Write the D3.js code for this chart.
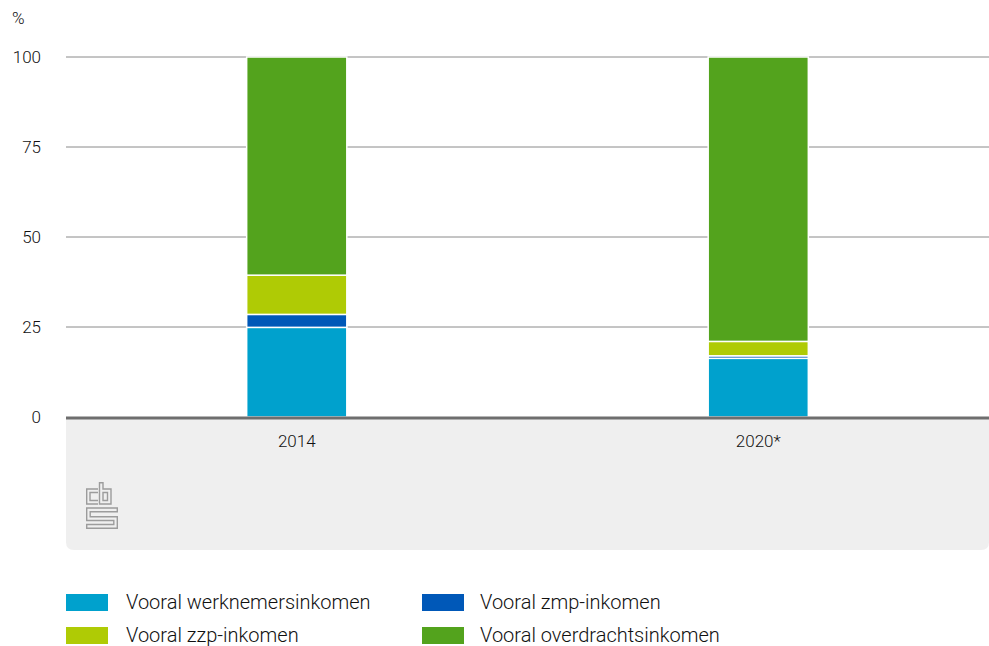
<!DOCTYPE html>
<html><head><meta charset="utf-8">
<script src="https://cdn.jsdelivr.net/npm/d3@7"></script>
<style>
body{margin:0;background:#fff;}
text{font-family:"Roboto","DejaVu Sans Condensed",sans-serif;fill:#111;font-weight:300;}
</style></head>
<body><svg id="c" width="989" height="646"></svg>
<script>
const categories = ["2014", "2020*"];
const seriesNames = ["Vooral werknemersinkomen", "Vooral zmp-inkomen", "Vooral zzp-inkomen", "Vooral overdrachtsinkomen"];
const werknemers = [24.9, 16.3];
const zmp = [3.6, 0.7];
const zzp = [10.9, 4.0];
const overdracht = [60.6, 79.0];
const yTicks = [0, 25, 50, 75, 100];
const colors = ["#00a1cd", "#0058b8", "#afcb05", "#53a31d"];

(function(){
const svg = d3.select("#c");
const pLeft = 66, pRight = 989, pTop = 57, pBottom = 417;
const x = d3.scaleBand().domain(categories).range([pLeft, pRight]).paddingInner(0.783).paddingOuter(0.3915);
const y = d3.scaleLinear().domain([0, 100]).range([pBottom, pTop]);

// gray panel
svg.append("path")
  .attr("d", `M${pLeft},${pBottom} H${pRight} V${550-8} Q${pRight},550 ${pRight-8},550 H${pLeft+8} Q${pLeft},550 ${pLeft},${550-8} Z`)
  .attr("fill", "#efefef");

// gridlines
svg.append("g").selectAll("line").data(yTicks.filter(d=>d>0)).join("line")
  .attr("x1", pLeft).attr("x2", pRight)
  .attr("y1", d=>y(d)).attr("y2", d=>y(d))
  .attr("stroke", "#8a8a8a").attr("stroke-width", 1);

// y labels
svg.append("g").selectAll("text").data(yTicks).join("text")
  .attr("x", 41).attr("y", d=>y(d)+6).attr("text-anchor","end")
  .attr("font-size", 17).text(d=>d);
svg.append("text").attr("x", 12).attr("y", 24).attr("font-size", 17).text("%");

// stack
const rows = categories.map((c,i)=>({cat:c, a:werknemers[i], b:zmp[i], c:zzp[i], d:overdracht[i]}));
const stack = d3.stack().keys(["a","b","c","d"])(rows);
svg.append("g").selectAll("g").data(stack).join("g")
  .attr("fill", (d,i)=>colors[i])
  .selectAll("rect").data(d=>d).join("rect")
  .attr("x", d=>x(d.data.cat)).attr("width", x.bandwidth())
  .attr("y", d=>y(d[1])).attr("height", d=>Math.max(0, y(d[0])-y(d[1])))
  .attr("stroke", "#fff").attr("stroke-width", 1.5);

// axis line
svg.append("line").attr("x1", pLeft).attr("x2", pRight).attr("y1", pBottom+1).attr("y2", pBottom+1)
  .attr("stroke", "#6e6e6e").attr("stroke-width", 3);

// x labels
svg.append("g").selectAll("text").data(categories).join("text")
  .attr("x", d=>x(d)+x.bandwidth()/2).attr("y", 447).attr("text-anchor","middle")
  .attr("font-size", 17).text(d=>d);

// logo
const lg = svg.append("g").attr("transform","translate(86,482)")
  .attr("fill","none").attr("stroke","#9c9c9c").attr("stroke-width",1.4);
lg.append("path").attr("d","M12,7 H0.7 V22 H12 M12,10.5 H4 V18.5 H12");
lg.append("path").attr("d","M13.5,0.7 H17 V7 H25 V22 H13.5 Z M17,10.5 H21.5 V18.5 H17 Z");
lg.append("path").attr("d","M31.3,26 H0.7 V38.5 H27.8 V42.5 H0.7 V46.3 H31.3 V34.8 H4.2 V29.8 H31.3 Z");

// legend
const leg = [
  {name: seriesNames[0], c: colors[0], x: 66, y: 594},
  {name: seriesNames[1], c: colors[1], x: 422, y: 594},
  {name: seriesNames[2], c: colors[2], x: 66, y: 627},
  {name: seriesNames[3], c: colors[3], x: 422, y: 627}
];
const lgd = svg.append("g").selectAll("g").data(leg).join("g");
lgd.append("rect").attr("x",d=>d.x).attr("y",d=>d.y).attr("width",42).attr("height",17).attr("fill",d=>d.c);
lgd.append("text").attr("x",d=>d.x+ (d.x===66?60:58)).attr("y",d=>d.y+15).attr("font-size",20).text(d=>d.name);
})();
</script></body></html>
